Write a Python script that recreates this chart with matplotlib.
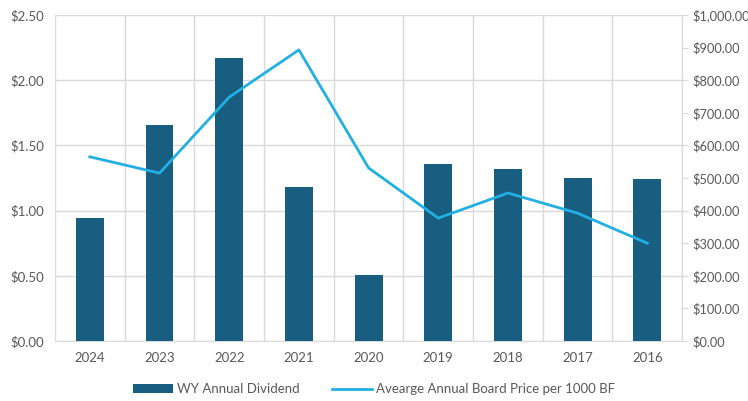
import matplotlib.pyplot as plt
import numpy as np
from matplotlib.ticker import FuncFormatter, MultipleLocator, FixedLocator

years = ["2024", "2023", "2022", "2021", "2020", "2019", "2018", "2017", "2016"]
dividend = [0.94, 1.66, 2.17, 1.18, 0.51, 1.36, 1.32, 1.25, 1.24]
board_price = [565, 515, 748, 893, 531, 377, 454, 392, 300]

bar_color = "#175E80"
line_color = "#22B0E3"
text_color = "#595959"
grid_color = "#D9D9D9"

plt.rcParams["font.family"] = ["Lato", "DejaVu Sans"]
plt.rcParams["font.size"] = 9.5

fig, ax = plt.subplots(figsize=(7.48, 4.01), dpi=100)
fig.subplots_adjust(left=0.0735, right=0.912, top=0.9626, bottom=0.1496)

x = np.arange(len(years))
bars = ax.bar(x, dividend, width=0.4, color=bar_color, zorder=3,
              label="WY Annual Dividend")
ax.set_xlim(-0.5, len(years) - 0.5)
ax.set_ylim(0, 2.5)
ax.yaxis.set_major_locator(MultipleLocator(0.5))
ax.yaxis.set_major_formatter(FuncFormatter(lambda v, p: f"${v:.2f}"))
ax.set_xticks(x)
ax.set_xticklabels(years)
ax.xaxis.set_minor_locator(FixedLocator(np.arange(-0.5, len(years), 1.0)))
ax.grid(axis="y", which="major", color=grid_color, linewidth=1, zorder=0)
ax.grid(axis="x", which="minor", color=grid_color, linewidth=1, zorder=0)
ax.tick_params(axis="both", which="both", length=0, colors=text_color, pad=8)
for side in ["top", "left", "right"]:
    ax.spines[side].set_visible(False)
ax.spines["bottom"].set_color(grid_color)

ax2 = ax.twinx()
line, = ax2.plot(x, board_price, color=line_color, linewidth=2, zorder=4,
                 label="Avearge Annual Board Price per 1000 BF")
ax2.set_ylim(0, 1000)
ax2.yaxis.set_major_locator(MultipleLocator(100))
ax2.yaxis.set_major_formatter(FuncFormatter(lambda v, p: f"${v:,.2f}"))
ax2.tick_params(axis="y", length=4, color=grid_color, labelcolor=text_color,
                pad=3, labelsize=9.2)
for side in ["top", "left", "bottom"]:
    ax2.spines[side].set_visible(False)
ax2.spines["right"].set_color(grid_color)

fig.legend([bars, line], [bars.get_label(), line.get_label()],
           loc="lower center", bbox_to_anchor=(0.5, -0.015), ncol=2, frameon=False,
           labelcolor=text_color, handlelength=3.0, handleheight=0.7,
           handletextpad=0.3, columnspacing=2.5, fontsize=9.5)

fig.savefig("out.png", dpi=100)
